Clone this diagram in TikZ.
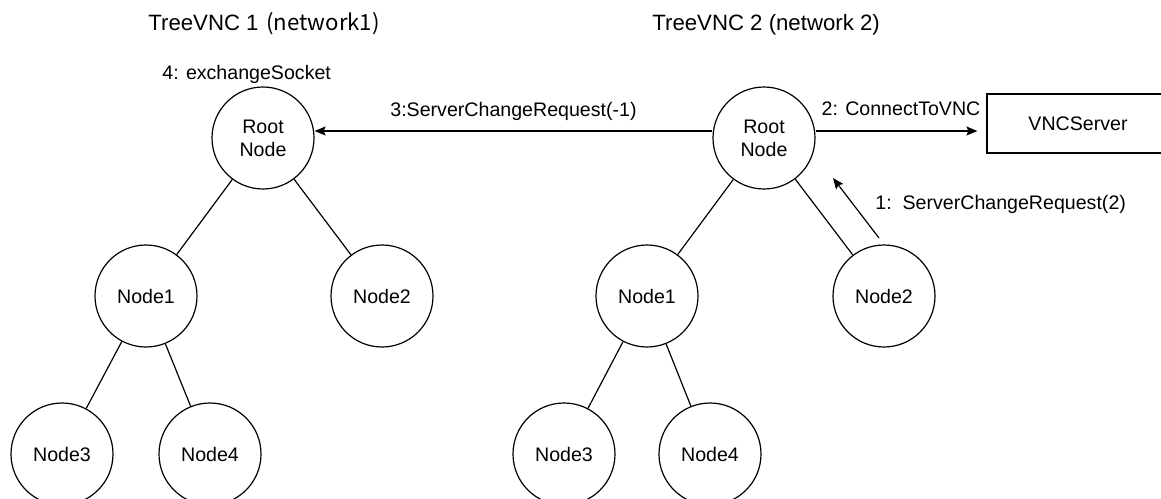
\documentclass[tikz,border=0pt]{standalone}
\usepackage{fontspec}
\setmainfont{Liberation Sans}
\newfontfamily\cjk{Noto Sans CJK JP}
\usetikzlibrary{positioning}
\usetikzlibrary{arrows.meta}

\begin{document}
\begin{tikzpicture}[treenode/.style={circle, draw=black, line width=0.6pt, minimum size=51pt, inner sep=0pt, align=center, font=\fontsize{9.8}{11.5}\selectfont},
    serverbox/.style={rectangle, draw=black, line width=0.6pt, minimum width=91pt, minimum height=29.5pt, font=\fontsize{9.8}{11.5}\selectfont},
    msg/.style={font=\fontsize{9.8}{11.5}\selectfont, inner sep=0pt},
    title/.style={font=\fontsize{11.1}{13}\selectfont, inner sep=0pt, anchor=base west},
    arrow/.style={-{Stealth[length=5.5pt, width=4.5pt, inset=1pt]}, line width=0.6pt},
    on grid]
        \useasboundingbox (0,0) rectangle (580.5pt,-249pt);

        % tree of network 1
        \node[treenode] (rootL) at (131.5pt,-69pt) {Root\\Node};
        \node[treenode] (node1L) [below left=79pt and 58.5pt of rootL] {Node1};
        \node[treenode] (node2L) [below right=79pt and 59.5pt of rootL] {Node2};
        \node[treenode] (node3L) [below left=79pt and 42pt of node1L] {Node3};
        \node[treenode] (node4L) [below right=79pt and 32pt of node1L] {Node4};

        \draw[line width=0.6pt] (rootL) -- (node1L);
        \draw[line width=0.6pt] (rootL) -- (node2L);
        \draw[line width=0.6pt] (node1L) -- (node3L);
        \draw[line width=0.6pt] (node1L) -- (node4L);

        % tree of network 2
        \node[treenode] (rootR) [right=250.5pt of rootL] {Root\\Node};
        \node[treenode] (node1R) [below left=79pt and 58.5pt of rootR] {Node1};
        \node[treenode] (node2R) [below right=79pt and 60pt of rootR] {Node2};
        \node[treenode] (node3R) [below left=79pt and 41.5pt of node1R] {Node3};
        \node[treenode] (node4R) [below right=79pt and 31.5pt of node1R] {Node4};

        \draw[line width=0.6pt] (rootR) -- (node1R);
        \draw[line width=0.6pt] (rootR) -- (node2R);
        \draw[line width=0.6pt] (node1R) -- (node3R);
        \draw[line width=0.6pt] (node1R) -- (node4R);

        \node[serverbox] (vnc) at (539pt,-61.75pt) {VNCServer};

        % titles
        \node[title] (title1) at (74pt,-15.5pt) {TreeVNC 1\hspace{0.35em}{\cjk (network1)}};
        \node[title] (title2) at (326pt,-15.5pt) {TreeVNC 2 (network 2)};
        \node[msg, anchor=base west] (step4) at (81pt,-39.5pt) {4: exchangeSocket};

        % messages
        \coordinate (rootRin) at ([yshift=3.5pt]rootR.west);
        \coordinate (rootRout) at ([yshift=3.5pt]rootR.east);
        \coordinate (rootLin) at ([yshift=3.5pt]rootL.east);
        \draw[arrow] (rootRin) -- node[msg, midway, anchor=base, yshift=7.5pt] (step3) {3:ServerChangeRequest(-1)} (rootLin);
        \draw[arrow, shorten >=4.5pt] (rootRout) -- node[msg, midway, anchor=base, yshift=8pt] (step2) {2: ConnectToVNC} (rootRout -| vnc.west);

        \coordinate (req1tail) at ([shift={(-2.5pt,29pt)}]node2R.center);
        \coordinate (req1tip) at ([shift={(34.5pt,-20pt)}]rootR.center);
        \draw[arrow] (req1tail) -- (req1tip);
        \node[msg, anchor=base west] (step1) at ([shift={(-2pt,14.5pt)}]req1tail) {1:\ \ ServerChangeRequest(2)};

    \end{tikzpicture}
\end{document}
